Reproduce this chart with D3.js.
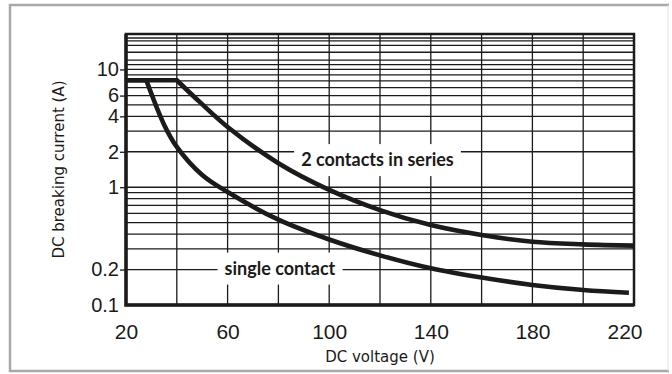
<!DOCTYPE html>
<html>
<head>
<meta charset="utf-8">
<script src="https://cdn.jsdelivr.net/npm/d3@7"></script>
<style>
  body { margin: 0; background: #fff; }
  svg { display: block; font-family: Lato, "Open Sans", sans-serif; }
</style>
</head>
<body>
<svg id="chart" width="672" height="374"></svg>
<script>
// x axis: DC voltage (V)
const voltTicks = [20, 60, 100, 140, 180, 220];
const voltGrid = [20, 40, 60, 80, 100, 120, 140, 160, 180, 200, 220];
// y axis: DC breaking current (A), log
const currentTicks = [0.1, 0.2, 1, 2, 4, 6, 10];
const currentGrid = [0.1, 0.2, 0.3, 0.4, 0.5, 0.6, 0.7, 0.8, 0.9, 1, 2, 3, 4, 5, 6, 7, 8, 9, 10, 11, 12, 14, 16, 17.5, 18.5, 20];

// curves (first two points = flat part)
const singleVolt = [20, 28, 35, 40, 50, 60, 80, 100, 120, 140, 160, 180, 200, 218];
const singleCurrent = [8.1, 8.1, 3.4, 2.2, 1.27, 0.91, 0.53, 0.36, 0.264, 0.205, 0.171, 0.148, 0.134, 0.127];
const seriesVolt = [20, 40, 49, 60, 80, 100, 120, 140, 160, 180, 200, 220];
const seriesCurrent = [8.1, 8.1, 5.3, 3.25, 1.6, 0.95, 0.64, 0.477, 0.393, 0.344, 0.327, 0.319];

const curveLabels = [
  { text: '2 contacts in series', volt: 119, current: 1.71 },
  { text: 'single contact', volt: 80.6, current: 0.205 }
];

const svg = d3.select('#chart');
const margin = { top: 34, right: 38, bottom: 69, left: 126 };
const width = 672 - margin.left - margin.right;
const height = 374 - margin.top - margin.bottom;
const ink = '#1c1a1a';

// outer border
svg.append('path')
  .attr('d', 'M669,5 H10 V371 H669')
  .attr('fill', 'none')
  .attr('stroke', '#a8a8a8')
  .attr('stroke-width', 2.5);
svg.append('line')
  .attr('x1', 668).attr('x2', 668).attr('y1', 5).attr('y2', 371)
  .attr('stroke', '#e2e2e2').attr('stroke-width', 1);

const x = d3.scaleLinear().domain([20, 220]).range([0, width]);
const y = d3.scaleLog().domain([0.1, 20]).range([height, 0]);

const g = svg.append('g')
  .attr('transform', 'translate(' + margin.left + ',' + margin.top + ')');

// grid
g.append('g')
  .selectAll('line')
  .data(currentGrid)
  .enter()
  .append('line')
  .attr('x1', 0).attr('x2', width)
  .attr('y1', d => y(d)).attr('y2', d => y(d))
  .attr('stroke', ink).attr('stroke-width', 1.3);

g.append('g')
  .selectAll('line')
  .data(voltGrid)
  .enter()
  .append('line')
  .attr('y1', 0).attr('y2', height)
  .attr('x1', d => x(d)).attr('x2', d => x(d))
  .attr('stroke', ink).attr('stroke-width', 1.3);

// label boxes cover the grid
const labelG = g.append('g');

// frame
g.append('rect')
  .attr('width', width).attr('height', height)
  .attr('fill', 'none')
  .attr('stroke', ink).attr('stroke-width', 2.5);
g.append('path')
  .attr('d', 'M0,0 V' + height + ' H' + width)
  .attr('fill', 'none')
  .attr('stroke', ink).attr('stroke-width', 3.5);

// axes
const yAxis = d3.axisLeft(y)
  .tickValues(currentTicks)
  .tickFormat(d => String(d))
  .tickSize(6)
  .tickPadding(1);
const gY = g.append('g').call(yAxis);
gY.select('.domain').remove();
gY.selectAll('line').attr('stroke', ink).attr('stroke-width', 1.3);
gY.selectAll('text')
  .style('font-size', '20px')
  .attr('fill', ink);
gY.selectAll('.tick').filter(d => d === 0.1).select('line').remove();

const xAxis = d3.axisBottom(x)
  .tickValues(voltTicks)
  .tickSize(0)
  .tickPadding(19);
const gX = g.append('g')
  .attr('transform', 'translate(0,' + height + ')')
  .call(xAxis);
gX.select('.domain').remove();
gX.selectAll('text')
  .style('font-size', '21px')
  .attr('fill', ink);
gX.selectAll('.tick').filter(d => d === 220).select('text')
  .attr('text-anchor', 'end')
  .attr('dx', 8);

// axis titles
svg.append('text')
  .attr('transform', 'translate(64,' + (margin.top + height / 2) + ') rotate(-90)')
  .attr('text-anchor', 'middle')
  .style('font-family', '"DejaVu Sans", sans-serif')
  .style('font-size', '15px')
  .attr('fill', ink)
  .text('DC breaking current (A)');

svg.append('text')
  .attr('x', margin.left + width / 2)
  .attr('y', 362)
  .attr('text-anchor', 'middle')
  .style('font-family', '"DejaVu Sans", sans-serif')
  .style('font-size', '15px')
  .attr('fill', ink)
  .text('DC voltage (V)');

// curves: straight flat part, then a smooth fall from the corner
const flat = d3.line().x(d => x(d[0])).y(d => y(d[1]));
const fall = d3.line().x(d => x(d[0])).y(d => y(d[1]))
  .curve(d3.curveCatmullRom.alpha(0.5));

function curvePath(volts, currents) {
  const pts = d3.zip(volts, currents);
  return flat(pts.slice(0, 2)) + fall(pts.slice(1)).replace(/^M/, 'L');
}

const curves = [
  { volt: singleVolt, current: singleCurrent },
  { volt: seriesVolt, current: seriesCurrent }
];

g.selectAll('.curve')
  .data(curves)
  .enter()
  .append('path')
  .classed('curve', true)
  .attr('d', d => curvePath(d.volt, d.current))
  .attr('fill', 'none')
  .attr('stroke', ink)
  .attr('stroke-width', 4.6)
  .attr('stroke-linejoin', 'miter');

// curve labels
curveLabels.forEach(l => {
  const t = labelG.append('text')
    .attr('x', x(l.volt))
    .attr('y', y(l.current))
    .attr('dy', '0.35em')
    .attr('text-anchor', 'middle')
    .style('font-size', '18px')
    .style('font-weight', 'bold')
    .attr('fill', ink)
    .text(l.text);
  const b = t.node().getBBox();
  labelG.insert('rect', 'text')
    .attr('x', b.x - 7)
    .attr('y', b.y - 4)
    .attr('width', b.width + 14)
    .attr('height', b.height + 10)
    .attr('fill', '#fff');
});
</script>
</body>
</html>
